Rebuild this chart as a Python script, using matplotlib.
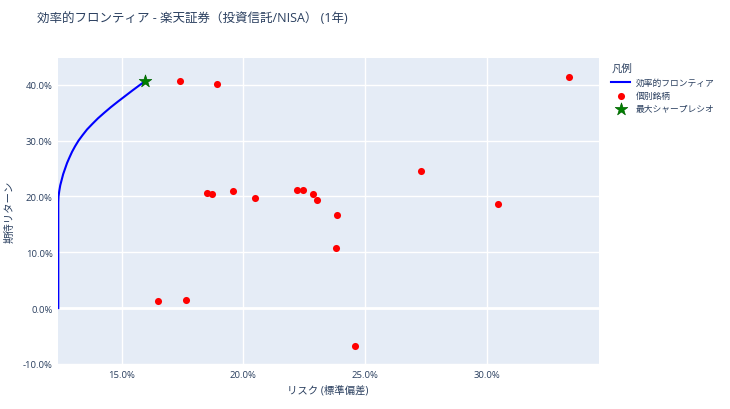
import numpy as np
import matplotlib
matplotlib.use("Agg")
import matplotlib.pyplot as plt
from matplotlib.ticker import FuncFormatter

plt.rcParams["font.family"] = ["Open Sans", "Noto Sans CJK JP", "DejaVu Sans"]

# efficient frontier (risk %, return %)
frontier_risk = [12.40, 12.40, 12.40, 12.41, 12.44, 12.48, 12.54, 12.60, 12.68,
                 12.76, 12.86, 12.965, 13.09, 13.23, 13.40, 13.58, 13.80, 14.03,
                 14.29, 14.56, 14.85, 15.15, 15.45, 15.76, 15.95]
frontier_ret = [0.0, 10.0, 19.0, 20.0, 21.0, 22.0, 23.0, 24.0, 25.0,
                26.0, 27.0, 28.0, 29.0, 30.0, 31.0, 32.0, 33.0, 34.0,
                35.0, 36.0, 37.0, 38.0, 39.0, 40.0, 40.6]

# individual stocks
stock_risk = [17.4, 18.9, 18.5, 18.7, 19.56, 20.5, 22.2, 22.47, 22.88, 23.03,
              23.84, 23.82, 16.5, 17.66, 24.6, 33.37, 27.3, 30.47]
stock_ret = [40.6, 40.2, 20.6, 20.4, 21.0, 19.7, 21.2, 21.2, 20.4, 19.3,
             16.7, 10.8, 1.2, 1.5, -6.7, 41.4, 24.6, 18.6]

# max sharpe portfolio
sharpe_risk = [15.95]
sharpe_ret = [40.6]

text_color = "#2a3f5f"

fig = plt.figure(figsize=(7.3, 4.1), dpi=100)
ax = fig.add_axes([58.3 / 730, 1 - 365 / 410, (598.7 - 58.3) / 730, (365 - 59) / 410])
ax.set_facecolor("#E5ECF6")
for s in ax.spines.values():
    s.set_visible(False)

ax.set_xlim(12.40, 34.6)
ax.set_ylim(-10.0, 44.8)
ax.set_xticks([15, 20, 25, 30])
ax.set_yticks([-10, 0, 10, 20, 30, 40])
pct = FuncFormatter(lambda v, p: f"{v:.1f}%")
ax.xaxis.set_major_formatter(pct)
ax.yaxis.set_major_formatter(pct)
ax.tick_params(length=0, labelsize=6.8, colors=text_color, pad=4)
ax.grid(True, color="white", linewidth=1)
ax.set_axisbelow(True)
ax.axhline(0, color="white", linewidth=2, zorder=1)

ax.plot(frontier_risk, frontier_ret, color="blue", linewidth=1.5,
        label="効率的フロンティア", zorder=3, solid_joinstyle="round")
ax.scatter(stock_risk, stock_ret, s=26, color="red", linewidths=0,
           label="個別銘柄", zorder=4)
ax.scatter(sharpe_risk, sharpe_ret, s=90, marker="*", color="green",
           edgecolors="#006400", linewidths=0.5, label="最大シャープレシオ", zorder=5)

fig.text(37 / 730, 1 - 18 / 410, "効率的フロンティア - 楽天証券（投資信託/NISA） (1年)",
         fontsize=9.0, color=text_color, va="center", ha="left")
fig.text(328 / 730, 1 - 391 / 410, "リスク (標準偏差)", fontsize=7.5,
         color=text_color, va="center", ha="center")
fig.text(10 / 730, 1 - 212 / 410, "期待リターン", fontsize=7.5, rotation=90,
         color=text_color, va="center", ha="center")

leg = ax.legend(loc="upper left", bbox_to_anchor=(605 / 730, 1 - 58 / 410),
                bbox_transform=fig.transFigure, frameon=False, title="凡例",
                fontsize=6.3, title_fontsize=7.5, alignment="left",
                handlelength=2.2, handletextpad=0.6, labelspacing=0.45,
                borderpad=0.2)
for t in leg.get_texts():
    t.set_color(text_color)
leg.get_title().set_color(text_color)

fig.savefig("out.png", dpi=100)
